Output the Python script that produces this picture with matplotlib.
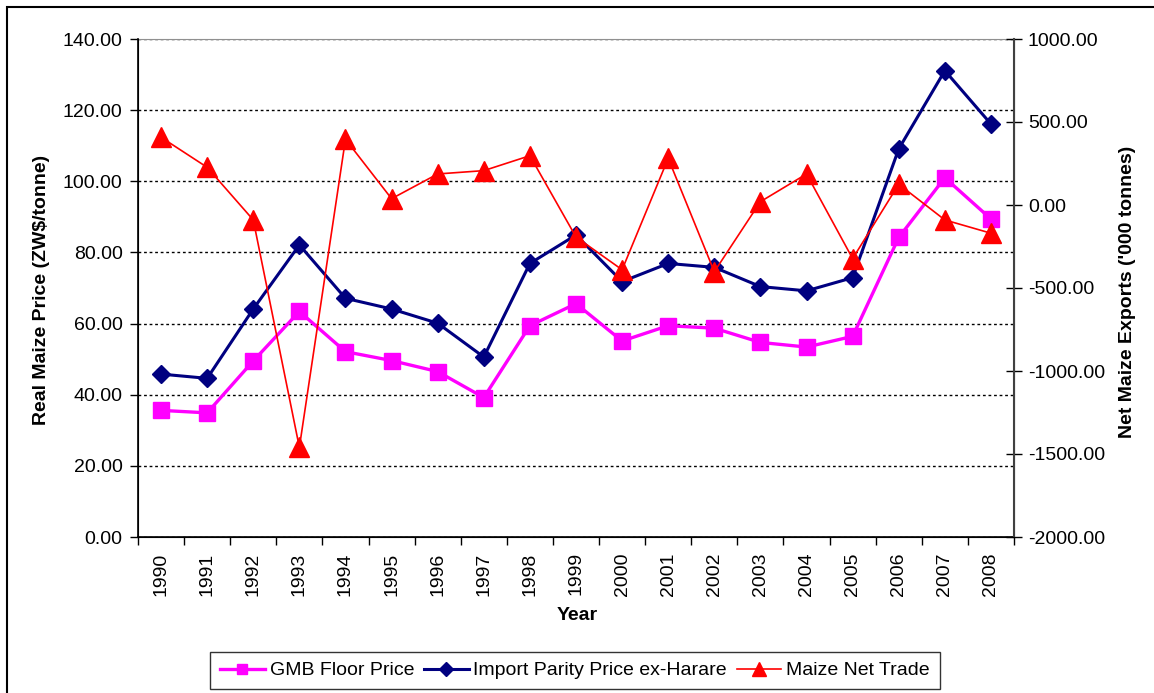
import numpy as np
import matplotlib
matplotlib.use("Agg")
from matplotlib import pyplot as plt
from matplotlib.patches import Rectangle
from matplotlib.ticker import FormatStrFormatter

years = ['1990', '1991', '1992', '1993', '1994', '1995', '1996', '1997', '1998', '1999',
         '2000', '2001', '2002', '2003', '2004', '2005', '2006', '2007', '2008']
gmbFloor = [35.6, 34.9, 49.5, 63.4, 52.1, 49.6, 46.5, 39.2, 59.4, 65.6,
            55.1, 59.4, 58.7, 54.7, 53.4, 56.4, 84.2, 101.0, 89.4]
importParity = [45.8, 44.6, 64.1, 82.1, 67.1, 64.1, 60.1, 50.6, 76.9, 84.9,
                71.8, 76.9, 75.8, 70.4, 69.2, 72.9, 109.1, 131.1, 116.1]
netTrade = [408, 227, -90, -1460, 396, 38, 187, 207, 297, -193,
            -390, 281, -402, 20, 187, -323, 125, -90, -170]

plt.rcParams['font.family'] = ['Liberation Sans', 'DejaVu Sans']
plt.rcParams['font.size'] = 14

W, H = 1154, 693
fig = plt.figure(figsize=(W / 100, H / 100), dpi=100)
ax = fig.add_axes([138 / W, 1 - 537 / H, (1014 - 138) / W, (537 - 39) / H])

x = np.arange(len(years))
l1, = ax.plot(x, gmbFloor, '-s', color='#FF00FF', lw=2.4, ms=11, label='GMB Floor Price')
l2, = ax.plot(x, importParity, '-D', color='#000080', lw=2.2, ms=9.5,
              label='Import Parity Price ex-Harare')

ax.set_xlim(-0.5, len(years) - 0.5)
ax.set_ylim(0, 140)
ax.set_yticks(np.arange(0, 141, 20))
ax.yaxis.set_major_formatter(FormatStrFormatter('%.2f'))
ax.tick_params(axis='y', direction='out', length=6, width=1, pad=5)
ax.set_xticks(x, years, rotation=90)
ax.set_xticks(np.arange(-0.5, len(years), 1), minor=True)
ax.tick_params(axis='x', which='major', length=0, pad=11)
ax.tick_params(axis='x', which='minor', direction='out', length=6, width=1)
ax.yaxis.grid(True, color='black', lw=1, linestyle=(0, (2, 2)))
ax.set_axisbelow(True)

ax.spines['top'].set_color('#909090')
ax.spines['right'].set_color('#404040')
ax.spines['left'].set_linewidth(1.2)
ax.spines['bottom'].set_linewidth(1.2)

ax2 = ax.twinx()
l3, = ax2.plot(x, netTrade, '-^', color='#FF0000', lw=1.2, ms=14.4, label='Maize Net Trade')
ax2.set_ylim(-2000, 1000)
ax2.set_yticks(np.arange(-2000, 1001, 500))
ax2.yaxis.set_major_formatter(FormatStrFormatter('%.2f'))
ax2.tick_params(axis='y', direction='inout', length=12, width=1, pad=4, colors='black')
ax2.spines['right'].set_color('#404040')
ax2.spines['right'].set_linewidth(1.5)
ax2.spines['top'].set_visible(False)

fig.text(42 / W, 1 - 290 / H, 'Real Maize Price (ZW$/tonne)', rotation=90,
         ha='center', va='center', fontweight='bold')
fig.text(1127 / W, 1 - 292 / H, "Net Maize Exports ('000 tonnes)", rotation=90,
         ha='center', va='center', fontweight='bold')
fig.text(577 / W, 1 - 615 / H, 'Year', ha='center', va='center', fontweight='bold')

leg = fig.legend(handles=[l1, l2, l3], loc='center', ncol=3,
                 bbox_to_anchor=(575 / W, 1 - 670.5 / H), frameon=True, fancybox=False,
                 edgecolor='black', handlelength=2.3, handletextpad=0.25,
                 columnspacing=0.5, borderpad=0.5, markerscale=0.7)
leg.get_frame().set_linewidth(1)

fig.add_artist(Rectangle((7 / W, -0.1), 1.2, 1.1 - 6.5 / H, transform=fig.transFigure,
                         fill=False, ec='black', lw=1.5))

fig.savefig('out.png', dpi=100)
